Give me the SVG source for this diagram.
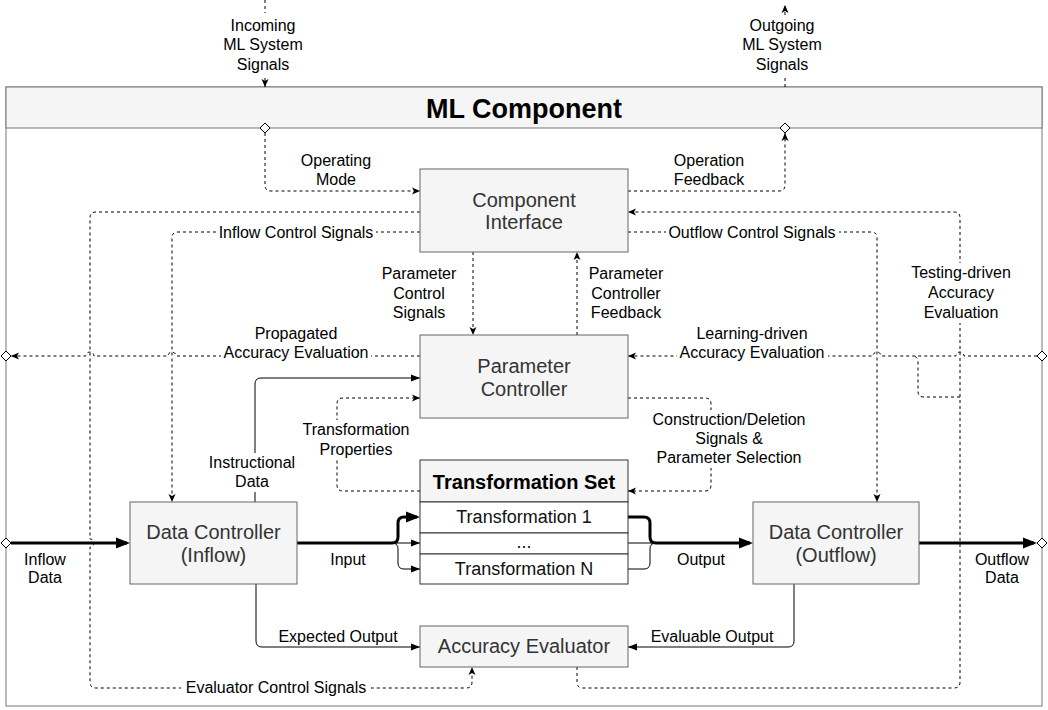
<svg xmlns="http://www.w3.org/2000/svg" width="1048" height="710" viewBox="0 0 1048 710">
<defs>
<style>
text{font-family:"Liberation Sans",Arial,Helvetica,sans-serif;fill:#000}
.lbl{font-size:16px;text-anchor:middle}
.box{fill:#f5f5f5;stroke:#666;stroke-width:1}
.bt{font-size:20px;fill:#333;text-anchor:middle}
.d{fill:none;stroke:#000;stroke-width:1;stroke-dasharray:3 3}
.s{fill:none;stroke:#000;stroke-width:1}
.t{fill:none;stroke:#000;stroke-width:3}
.dia{fill:#fff;stroke:#000;stroke-width:1}
.bg{fill:#fff}
.row{fill:#fff;stroke:#333;stroke-width:1}
.rt{font-size:18px;text-anchor:middle;fill:#111}
</style>
<marker id="ad" markerUnits="userSpaceOnUse" markerWidth="9" markerHeight="8" refX="8" refY="4" orient="auto"><path d="M0,0.5 L8,4 L0,7.5 L2,4 Z" fill="#000"/></marker>
<marker id="as" markerUnits="userSpaceOnUse" markerWidth="10" markerHeight="8" refX="9" refY="4" orient="auto"><path d="M0,0.5 L9,4 L0,7.5 Z" fill="#000"/></marker>
<marker id="at" markerUnits="userSpaceOnUse" markerWidth="15" markerHeight="12" refX="11" refY="6" orient="auto"><path d="M0,0.5 L14,6 L0,11.5 Z" fill="#000"/></marker>
</defs>

<g id="ml-component">
<rect x="6" y="87" width="1036" height="619" fill="#fff" stroke="#777"/>
<rect x="6" y="87" width="1036" height="41" fill="#f5f5f5" stroke="#777"/>
<text x="524" y="118" font-size="27" font-weight="bold" fill="#333" text-anchor="middle">ML Component</text>
</g>

<g id="connectors">
<path class="d" d="M265,0 L265,87" marker-end="url(#ad)"/>
<path class="d" d="M785,87 L785,5" marker-end="url(#ad)"/>
<path class="d" d="M265,133 L265,185 Q265,191 271,191 L420,191" marker-end="url(#ad)"/>
<path class="d" d="M628,191 L779,191 Q785,191 785,185 L785,133" marker-end="url(#ad)"/>
<path class="d" d="M577,667 L577,682 Q577,688 583,688 L954,688 Q960,688 960,682 L960,218 Q960,212 954,212 L628,212" marker-end="url(#ad)"/>
<path class="d" d="M960,397 L924,397 Q918,397 918,391 L918,362 Q918,356 912,356"/>
<path class="d" d="M1037,356 L964,356 A4,4 0 0 0 956,356 L881,356 A4,4 0 0 0 873,356 L628,356" marker-end="url(#ad)"/>
<path class="d" d="M420,212 L96,212 Q90,212 90,218 L90,539 A4,4 0 0 1 90,547 L90,682 Q90,688 96,688 L466,688 Q472,688 472,682 L472,667" marker-end="url(#ad)"/>
<path class="d" d="M420,232 L178,232 Q172,232 172,238 L172,502" marker-end="url(#ad)"/>
<path class="d" d="M628,232 L871,232 Q877,232 877,238 L877,502" marker-end="url(#ad)"/>
<path class="d" d="M473,252 L473,335" marker-end="url(#ad)"/>
<path class="d" d="M577,335 L577,252" marker-end="url(#ad)"/>
<path class="d" d="M420,356 L176,356 A4,4 0 0 0 168,356 L94,356 A4,4 0 0 0 86,356 L11,356" marker-end="url(#ad)"/>
<path class="s" d="M255,502 L255,384 Q255,378 261,378 L420,378" marker-end="url(#as)"/>
<path class="d" d="M420,491 L343,491 Q337,491 337,485 L337,404 Q337,398 343,398 L420,398" marker-end="url(#ad)"/>
<path class="d" d="M628,398 L705,398 Q711,398 711,404 L711,485 Q711,491 705,491 L628,491" marker-end="url(#ad)"/>
<path class="t" d="M11,543 L127,543" marker-end="url(#at)"/>
<path class="t" d="M297,543 L392,543 Q398,543 398,537 L398,523 Q398,517 404,517 L417,517" marker-end="url(#at)"/>
<path class="s" d="M392,543 L420,543" marker-end="url(#as)"/>
<path class="s" d="M392,543 Q398,543 398,549 L398,563 Q398,569 404,569 L420,569" marker-end="url(#as)"/>
<path class="t" d="M628,517 L644,517 Q650,517 650,523 L650,537 Q650,543 656,543 L750,543" marker-end="url(#at)"/>
<path class="s" d="M628,543 L656,543"/>
<path class="s" d="M628,569 L644,569 Q650,569 650,563 L650,549 Q650,543 656,543"/>
<path class="t" d="M919,543 L1034,543" marker-end="url(#at)"/>
<path class="s" d="M256,584 L256,641 Q256,647 262,647 L420,647" marker-end="url(#as)"/>
<path class="s" d="M794,584 L794,641 Q794,647 788,647 L628,647" marker-end="url(#as)"/>
<polygon class="dia" points="260,128 265,123 270,128 265,133"/>
<polygon class="dia" points="780,128 785,123 790,128 785,133"/>
<polygon class="dia" points="1,356 6,351 11,356 6,361"/>
<polygon class="dia" points="1037,356 1042,351 1047,356 1042,361"/>
<polygon class="dia" points="1,543 6,538 11,543 6,548"/>
<polygon class="dia" points="1037,543 1042,538 1047,543 1042,548"/>
</g>

<g id="labels">
<rect class="bg" x="226" y="13" width="76" height="62"/>
<text class="lbl" x="263" y="31">Incoming</text>
<text class="lbl" x="263" y="50">ML System</text>
<text class="lbl" x="263" y="70">Signals</text>
<rect class="bg" x="741" y="17" width="84" height="58"/>
<text class="lbl" x="782" y="31">Outgoing</text>
<text class="lbl" x="782" y="50">ML System</text>
<text class="lbl" x="782" y="70">Signals</text>
<text class="lbl" x="336" y="166">Operating</text>
<text class="lbl" x="336" y="185">Mode</text>
<text class="lbl" x="709" y="166">Operation</text>
<text class="lbl" x="709" y="185">Feedback</text>
<rect class="bg" x="216" y="224" width="160" height="17"/>
<text class="lbl" x="296" y="238">Inflow Control Signals</text>
<rect class="bg" x="666" y="224" width="173" height="17"/>
<text class="lbl" x="752" y="238">Outflow Control Signals</text>
<text class="lbl" x="419" y="279">Parameter</text>
<text class="lbl" x="419" y="299">Control</text>
<text class="lbl" x="419" y="318">Signals</text>
<text class="lbl" x="626" y="279">Parameter</text>
<text class="lbl" x="626" y="299">Controller</text>
<text class="lbl" x="626" y="318">Feedback</text>
<rect class="bg" x="910" y="263" width="102" height="60"/>
<text class="lbl" x="961" y="278">Testing-driven</text>
<text class="lbl" x="961" y="298">Accuracy</text>
<text class="lbl" x="961" y="318">Evaluation</text>
<rect class="bg" x="221" y="324" width="150" height="40"/>
<text class="lbl" x="296" y="339">Propagated</text>
<text class="lbl" x="296" y="358">Accuracy Evaluation</text>
<rect class="bg" x="677" y="324" width="151" height="40"/>
<text class="lbl" x="752" y="339">Learning-driven</text>
<text class="lbl" x="752" y="358">Accuracy Evaluation</text>
<rect class="bg" x="301" y="420" width="110" height="40"/>
<text class="lbl" x="356" y="435">Transformation</text>
<text class="lbl" x="356" y="455">Properties</text>
<rect class="bg" x="206" y="453" width="92" height="39"/>
<text class="lbl" x="252" y="468">Instructional</text>
<text class="lbl" x="252" y="487">Data</text>
<rect class="bg" x="650" y="410" width="159" height="58"/>
<text class="lbl" x="729" y="425">Construction/Deletion</text>
<text class="lbl" x="729" y="444">Signals &amp;</text>
<text class="lbl" x="729" y="463">Parameter Selection</text>
<text class="lbl" x="348" y="565">Input</text>
<text class="lbl" x="701" y="565">Output</text>
<text class="lbl" x="45" y="565">Inflow</text>
<text class="lbl" x="45" y="583">Data</text>
<text class="lbl" x="1002" y="565">Outflow</text>
<text class="lbl" x="1002" y="583">Data</text>
<text class="lbl" x="338" y="642">Expected Output</text>
<text class="lbl" x="712" y="642">Evaluable Output</text>
<rect class="bg" x="181" y="680" width="190" height="16"/>
<text class="lbl" x="276" y="693">Evaluator Control Signals</text>
</g>

<g id="component-interface">
<rect class="box" x="420" y="169" width="208" height="83"/>
<text class="bt" x="524" y="207">Component</text>
<text class="bt" x="524" y="229">Interface</text>
</g>
<g id="parameter-controller">
<rect class="box" x="420" y="335" width="208" height="83"/>
<text class="bt" x="524" y="373">Parameter</text>
<text class="bt" x="524" y="396">Controller</text>
</g>
<g id="data-controller-inflow">
<rect class="box" x="130" y="502" width="167" height="82"/>
<text class="bt" x="213.5" y="539">Data Controller</text>
<text class="bt" x="213.5" y="562">(Inflow)</text>
</g>
<g id="data-controller-outflow">
<rect class="box" x="753" y="502" width="166" height="82"/>
<text class="bt" x="836" y="539">Data Controller</text>
<text class="bt" x="836" y="562">(Outflow)</text>
</g>
<g id="accuracy-evaluator">
<rect class="box" x="420" y="626" width="208" height="41"/>
<text class="bt" x="524" y="653">Accuracy Evaluator</text>
</g>
<g id="transformation-set">
<rect x="420" y="460" width="208" height="42" fill="#f5f5f5" stroke="#333"/>
<text x="524" y="489" font-size="20" font-weight="bold" fill="#333" text-anchor="middle">Transformation Set</text>
<rect class="row" x="420" y="502" width="208" height="31"/>
<text class="rt" x="524" y="523">Transformation 1</text>
<rect class="row" x="420" y="533" width="208" height="21"/>
<text class="rt" x="524" y="548">...</text>
<rect class="row" x="420" y="554" width="208" height="30"/>
<text class="rt" x="524" y="575">Transformation N</text>
</g>
</svg>
